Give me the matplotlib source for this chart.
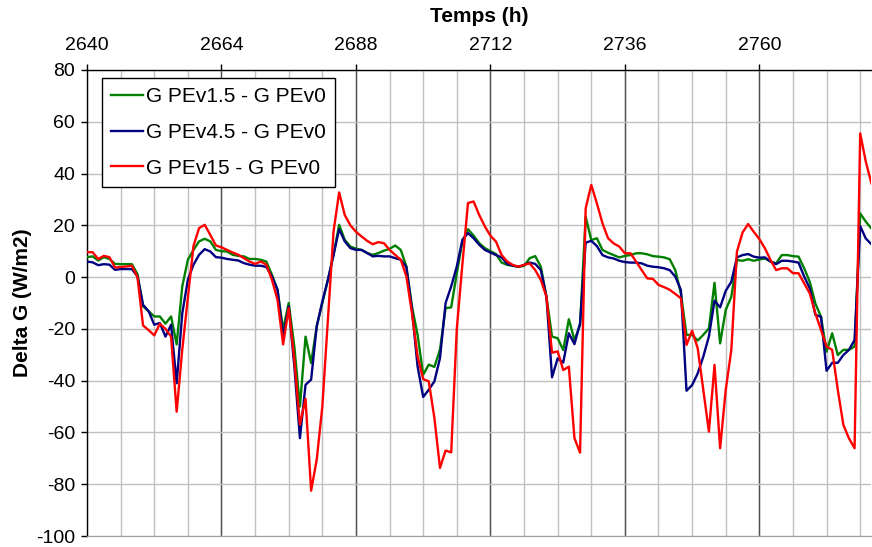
import matplotlib
matplotlib.use('Agg')
import matplotlib.pyplot as plt
import numpy as np
from matplotlib.ticker import MultipleLocator

plt.rcParams['font.family'] = ['Liberation Sans', 'DejaVu Sans']
plt.rcParams['axes.unicode_minus'] = False

# hourly values, 2640 h to 2780 h
hours = np.arange(2640, 2781)

dg_pev15 = [  # G PEv1.5 - G PEv0
    7.7, 8, 6.4, 7.7, 7, 5.1, 5, 5, 5, 1.2,
    -11.3, -13.2, -15.2, -15.2, -18, -15.2, -26, -3.6, 6.7, 10.5,
    13.8, 14.8, 13.8, 10.5, 10, 9.9, 8.6, 8.2, 8, 7,
    7, 6.7, 6, 0.9, -4.9, -20.3, -10, -26.8, -50, -23,
    -33.2, -19, -10, -1, 8.6, 20.2, 14.4, 11.8, 11, 10.5,
    9.3, 8.6, 9.3, 10.2, 10.9, 12.2, 10.5, 4.1, -11.3, -22.3,
    -37.7, -33.8, -34.7, -28, -12, -11.7, 1.5, 13.8, 18.5, 16,
    13.1, 11.2, 10, 8.9, 5.6, 4.7, 4.4, 4, 4.3, 7.3,
    8.1, 4, -7.6, -23, -23.6, -28.2, -16.3, -24.3, -18.5, 23.3,
    14.3, 15, 10.5, 9.4, 8.5, 7.6, 8.2, 8.5, 9.2, 9.2,
    8.8, 8.1, 7.9, 7.6, 6.9, 2.7, -6.3, -22.3, -22.3, -24.5,
    -22.3, -19.8, -2.2, -25.6, -12.7, -7.6, 6.6, 6.3, 6.9, 6.3,
    6.8, 7.2, 6, 5.3, 8.5, 8.5, 8.1, 7.9, 3.4, -1.8,
    -10.2, -15.3, -28.8, -21.7, -30.1, -28.1, -28.1, -26.8, 24.6, 21.4,
    18.8,
]

dg_pev45 = [  # G PEv4.5 - G PEv0
    6, 5.7, 4.6, 5, 4.8, 2.8, 3.1, 3.1, 3.1, 0.3,
    -10.7, -13.2, -18.4, -17.7, -23, -18.4, -41, -14, -1, 4.8,
    8.6, 10.8, 9.9, 7.7, 7.5, 7, 6.7, 6.4, 5.4, 4.8,
    4.4, 4.4, 3.9, 0.3, -4.9, -23, -11.3, -34.5, -62.2, -41.6,
    -39.6, -19, -9.4, -1, 8.6, 18.5, 13.8, 11.2, 10.5, 10.5,
    9.3, 8, 8.2, 8, 8, 7.3, 6.7, 3.9, -12.6, -34.5,
    -46.3, -43.5, -40.3, -31.3, -10, -3.6, 4.1, 14.4, 17, 15,
    12.5, 10.5, 9.5, 8.5, 7.6, 5.1, 4.4, 4, 4.7, 5.6,
    5.1, 2.7, -7.6, -38.7, -31.4, -33, -21.7, -25.9, -17.9, 13.3,
    14, 12, 8.5, 7.6, 7.2, 6.3, 5.8, 5.6, 5.6, 5.3,
    4.4, 4, 3.8, 3.4, 2.7, 0.2, -5, -43.9, -41.7, -37.2,
    -30.7, -22.9, -9.1, -11.7, -5.3, -1.8, 7.6, 8.5, 8.9, 7.9,
    7.5, 7.6, 6, 5, 6.3, 6.3, 6, 5.6, 0.2, -4.3,
    -14.6, -15.3, -36.2, -33.1, -33.1, -30.1, -28.1, -24.3, 19.7, 14.9,
    12.7,
]

dg_pev150 = [  # G PEv15 - G PEv0
    9.6, 9.6, 7, 8.2, 7.7, 3.7, 3.9, 4.1, 4.4, 0,
    -18.7, -20.5, -22.5, -18, -20, -23, -52, -28, -8, 12,
    18.9, 20.2, 16.3, 12.2, 11.5, 10.5, 9.5, 8.6, 7.3, 6,
    5.1, 6, 4.8, -1, -8.8, -26, -12, -32, -57, -47,
    -82.5, -70.5, -50, -16.5, 17.6, 32.7, 24, 20, 17.5, 15.7,
    14, 12.7, 13.5, 13.1, 10.5, 8.6, 6.7, 0.3, -14, -30.6,
    -39.4, -40.3, -54.4, -73.7, -67, -67.7, -20, 5, 28.6, 29.2,
    24, 19.6, 16, 13.7, 8.5, 6, 4.7, 4, 4.7, 5.3,
    2.7, -1.1, -7.6, -29.2, -28.7, -35.9, -34.6, -62.2, -67.8, 26.5,
    35.6, 28.5, 20.8, 15, 13, 11.8, 9.2, 9.2, 6, 2.7,
    -0.5, -0.7, -3, -3.9, -4.9, -6.5, -8.2, -26.2, -20.7, -27.5,
    -43.6, -59.7, -33.9, -66.1, -43.6, -28.1, 9.8, 17.2, 20.5, 17.5,
    14.7, 11.1, 6.6, 2.7, 3.4, 3.4, 1.5, 1.5, -2.4, -6.3,
    -14, -20.4, -26.8, -28.1, -43.5, -57.1, -62.3, -66.1, 55.5, 44.6,
    36.2,
]

series_names = ['G PEv1.5 - G PEv0', 'G PEv4.5 - G PEv0', 'G PEv15 - G PEv0']
series_colors = ['#008000', '#000080', '#ff0000']

fig = plt.figure(figsize=(8.72, 5.47), dpi=100)
ax = fig.add_axes([0.0998, 0.0201, 0.8995, 0.852])

# grid: light lines every 6 h and 20 W/m2, dark line every day
for h in range(2640, 2781, 6):
    ax.axvline(h, color='#c0c0c0', lw=1, zorder=0)
for h in range(2664, 2781, 24):
    ax.axvline(h, color='#505050', lw=1, zorder=0)
for v in range(-100, 81, 20):
    ax.axhline(v, color='#c0c0c0', lw=1, zorder=0)

for vals, name, col in zip([dg_pev15, dg_pev45, dg_pev150], series_names, series_colors):
    ax.plot(hours, vals, color=col, lw=1.7, label=name, zorder=3)

ax.set_xlim(2640, 2780)
ax.set_ylim(-100, 80)
ax.xaxis.tick_top()
ax.xaxis.set_label_position('top')
ax.set_xticks(range(2640, 2761, 24))
ax.yaxis.set_major_locator(MultipleLocator(20))
ax.tick_params(axis='both', labelsize=14, direction='out', length=4.5, width=1, colors='black')
ax.tick_params(axis='x', pad=7)
ax.tick_params(axis='y', pad=4)

ax.set_xlabel('Temps (h)', fontsize=15, fontweight='bold', labelpad=11)
ax.set_ylabel('Delta G (W/m2)', fontsize=15, fontweight='bold', labelpad=3)

ax.spines['right'].set_visible(False)
ax.spines['bottom'].set_color('#a0a0a0')
ax.spines['left'].set_linewidth(1)
ax.spines['top'].set_linewidth(1)

leg = ax.legend(loc='upper left', bbox_to_anchor=(0.019, 0.983), borderaxespad=0,
                fontsize=15, frameon=True, fancybox=False, edgecolor='black',
                handlelength=1.5, handletextpad=0.17, labelspacing=0.8,
                borderpad=0.45)
leg.get_frame().set_linewidth(1)
leg.get_frame().set_alpha(1)

fig.savefig('out.png', dpi=100)
